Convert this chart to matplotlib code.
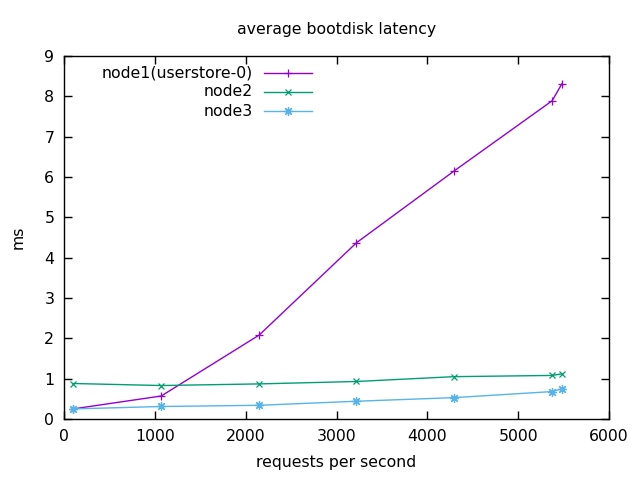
import matplotlib
matplotlib.use("Agg")
import matplotlib.pyplot as plt
from matplotlib.lines import Line2D

rps = [100, 1070, 2148, 3220, 4295, 5374, 5481]
node1 = [0.25, 0.57, 2.08, 4.37, 6.15, 7.89, 8.31]
node2 = [0.88, 0.83, 0.87, 0.93, 1.05, 1.08, 1.12]
node3 = [0.25, 0.31, 0.34, 0.44, 0.53, 0.68, 0.75]
names = ["node1(userstore-0)", "node2", "node3"]
colors = ["#9400d3", "#009e73", "#56b4e9"]
star = (8, 2, 0)
markers = ["+", "x", star]
sizes = [6, 5, 6.5]

plt.rcParams['font.family'] = 'DejaVu Sans'
plt.rcParams['font.size'] = 11.3

fig = plt.figure(figsize=(6.4, 4.8), dpi=100)
ax = fig.add_axes([64/640, 61/480, 545/640, 363/480])

for ys, c, m, s in zip([node1, node2, node3], colors, markers, sizes):
    ax.plot(rps, ys, color=c, lw=1, marker=m, ms=s, mew=0.9)

ax.set_xlim(0, 6000)
ax.set_ylim(0, 9)
ax.set_xticks(range(0, 6001, 1000))
ax.set_yticks(range(0, 10))
ax.tick_params(direction='in', top=True, right=True, length=6, width=1, pad=7)
for s in ax.spines.values():
    s.set_linewidth(1)

ax.set_title("average bootdisk latency", fontsize=11.3, pad=16)
ax.set_xlabel("requests per second", labelpad=8)
ax.set_ylabel("ms", labelpad=13)

# key, gnuplot style
rows = [0.953, 0.901, 0.848]
for name, c, m, s, y in zip(names, colors, markers, sizes, rows):
    ax.text(0.347, y, name, transform=ax.transAxes, ha='right', va='center')
    ax.add_line(Line2D([0.367, 0.455], [y, y], transform=ax.transAxes,
                       color=c, lw=1))
    ax.add_line(Line2D([0.411], [y], transform=ax.transAxes, color=c,
                       marker=m, ms=s, mew=0.9, ls='none'))

fig.savefig("out.png", dpi=100)
